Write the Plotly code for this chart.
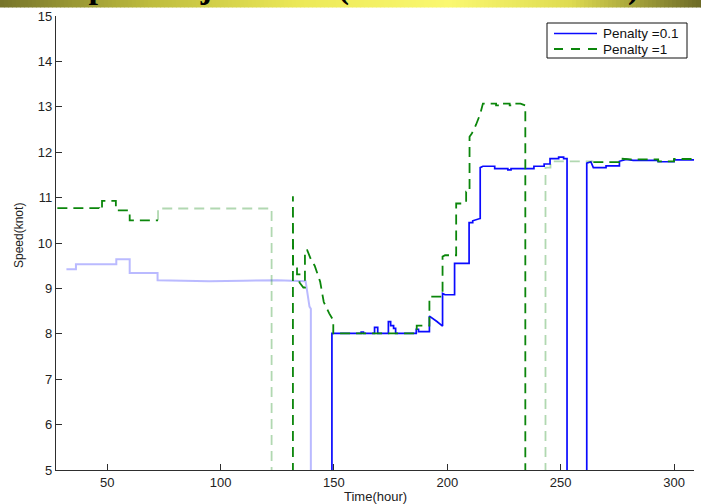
import plotly.graph_objects as go

# ---------------------------------------------------------------------------
# Speed trajectories (knot) against time (hour) for two penalty settings.
# Port stays are recorded as speed 0 and fall below the visible axis range.
# ---------------------------------------------------------------------------

# Penalty = 0.1 : earlier (lighter) part of the trajectory
p01_faded_time = [32, 36.2, 36.2, 54, 54, 59.9, 59.9, 72.2, 72.2, 95, 110, 125,
                  137.5, 139.2, 139.8, 139.8]
p01_faded_speed = [9.42, 9.42, 9.53, 9.53, 9.64, 9.64, 9.34, 9.34, 9.18, 9.16,
                   9.17, 9.18, 9.16, 8.6, 8.55, 0]

# Penalty = 0.1 : main trajectory
p01_time = [149.1, 149.1, 162, 162, 163, 163, 167.9, 167.9, 169.3, 169.3, 174,
            174, 175, 175, 176.3, 176.3, 177.2, 177.2, 186.3, 186.3, 187.3,
            187.3, 192.1, 192.1, 195.4, 197.6, 197.9, 197.9, 199, 203.2, 203.2,
            209.6, 209.6, 211.2, 211.2, 214.4, 214.5, 214.5, 215.7, 220.9, 220.9,
            226.7, 226.7, 228.1, 228.1, 238.2, 238.2, 242.7, 242.7, 245.3, 245.3,
            249.1, 249.1, 251.3, 251.3, 252.8, 252.8, 261.5, 261.5, 263.3, 264.4,
            270, 270, 275.9, 275.9, 278.9, 282, 293, 293, 300, 300, 308.8]
p01_speed = [0, 8.01, 8.01, 8.04, 8.04, 8.01, 8.01, 8.14, 8.14, 8.01, 8.01,
             8.27, 8.27, 8.18, 8.18, 8.12, 8.12, 8.01, 8.01, 8.1, 8.1,
             8.05, 8.05, 8.39, 8.27, 8.17, 8.17, 8.89, 8.86, 8.86, 9.55,
             9.55, 10.45, 10.45, 10.49, 10.54, 10.54, 11.66, 11.69, 11.69, 11.64,
             11.64, 11.61, 11.61, 11.64, 11.64, 11.69, 11.69, 11.74, 11.74, 11.86,
             11.86, 11.89, 11.89, 11.86, 11.86, 0, 0, 11.76, 11.79, 11.66,
             11.66, 11.7, 11.7, 11.8, 11.84, 11.82, 11.82, 11.79, 11.79, 11.83, 11.83]

# Penalty = 1 : main trajectory, three legs
p1_leg1_time = [28, 46.5, 46.5, 47.7, 47.7, 53.8, 53.8, 59.9, 59.9, 72.4]
p1_leg1_speed = [10.77, 10.77, 10.74, 10.74, 10.93, 10.93, 10.72, 10.72, 10.5, 10.5]

p1_leg2_time = [131.9, 131.9, 132.0, 133.7, 133.7, 134.8, 134.8, 136.5, 137.2,
                137.2, 138.2, 140.0, 141.5, 143.9, 145.5, 147.9, 149.7, 149.7,
                186.5, 186.5, 192.1, 192.1, 197.9, 197.9, 199, 203.9, 203.9,
                207, 208.3, 208.3, 209.8, 209.8, 210.8, 212.7, 214.5, 215.7,
                221.5, 221.5, 223, 223, 227.5, 227.5, 229, 229, 232.3, 234.4, 234.4]
p1_leg2_speed = [0, 11.03, 9.44, 9.44, 9.31, 9.31, 9.13, 9.02, 9.02,
                 9.84, 9.84, 9.62, 9.5, 9.15, 8.7, 8.45, 8.3, 8.01,
                 8.01, 8.18, 8.18, 8.82, 8.82, 9.7, 9.73, 9.73, 10.87,
                 10.87, 10.89, 11.13, 11.13, 12.34, 12.41, 12.61, 12.84, 13.07,
                 13.07, 13.03, 13.03, 13.07, 13.07, 13.03, 13.03, 13.07, 13.07, 13.03, 0]

p1_leg3_time = [264.4, 275.8, 275.8, 281, 293, 293, 300, 300, 308.8]
p1_leg3_speed = [11.78, 11.78, 11.86, 11.84, 11.84, 11.8, 11.8, 11.85, 11.85]

# Penalty = 1 : lighter parts of the trajectory
p1_faded1_time = [72.4, 72.4, 122.5, 122.5]
p1_faded1_speed = [10.5, 10.76, 10.76, 0]
p1_faded2_time = [243.3, 243.3, 245.5, 245.5, 264.4]
p1_faded2_speed = [0, 11.66, 11.66, 11.8, 11.8]

series_names = ["Penalty =0.1", "Penalty =1"]
x_ticks = [50, 100, 150, 200, 250, 300]
y_ticks = [5, 6, 7, 8, 9, 10, 11, 12, 13, 14, 15]
x_range = [27.4, 308.8]
y_range = [5, 15]


def joined(*parts):
    """Concatenate segments with None so each leg is drawn separately."""
    out = []
    for i, p in enumerate(parts):
        if i:
            out.append(None)
        out.extend(p)
    return out


BLUE = "#0a0aff"
GREEN = "#0b860b"
BLUE_FADED = "rgba(40,40,255,0.32)"
GREEN_FADED = "rgba(11,134,11,0.32)"
DASH = "10px,6px"
SANS = "Liberation Sans, Arial, sans-serif"

fig = go.Figure()
fig.add_trace(go.Scatter(x=p01_faded_time, y=p01_faded_speed, mode="lines",
                         line=dict(color=BLUE_FADED, width=2),
                         showlegend=False, hoverinfo="skip"))
fig.add_trace(go.Scatter(x=p01_time, y=p01_speed, mode="lines",
                         name=series_names[0], showlegend=False,
                         line=dict(color=BLUE, width=1.7)))
fig.add_trace(go.Scatter(x=joined(p1_leg1_time, p1_leg2_time, p1_leg3_time),
                         y=joined(p1_leg1_speed, p1_leg2_speed, p1_leg3_speed),
                         mode="lines", name=series_names[1], connectgaps=False,
                         showlegend=False,
                         line=dict(color=GREEN, width=1.8, dash=DASH)))
fig.add_trace(go.Scatter(x=joined(p1_faded1_time, p1_faded2_time),
                         y=joined(p1_faded1_speed, p1_faded2_speed),
                         mode="lines", connectgaps=False, showlegend=False,
                         hoverinfo="skip",
                         line=dict(color=GREEN_FADED, width=1.8, dash=DASH)))

# Page geometry (pixels)
W, H = 701, 504
L, R, T, B = 56, 7, 16, 34


def px_x(p):
    return (p - L) / (W - L - R)


def px_y(p):
    return 1 - (p - T) / (H - T - B)


# Gradient header band across the top of the page
stops = [(0, (118, 116, 42)), (150, (190, 188, 62)), (300, (236, 233, 88)),
         (450, (250, 248, 112)), (570, (222, 219, 80)), (701, (108, 106, 38))]


def band_colour(x):
    for (xa, ca), (xb, cb) in zip(stops[:-1], stops[1:]):
        if xa <= x <= xb:
            f = (x - xa) / (xb - xa)
            c = [round(a + (b - a) * f) for a, b in zip(ca, cb)]
            return "rgb(%d,%d,%d)" % tuple(c)
    return "rgb(%d,%d,%d)" % stops[-1][1]


shapes = []
step = 4
for x0 in range(0, W, step):
    shapes.append(dict(type="rect", xref="paper", yref="paper",
                       x0=px_x(x0), x1=px_x(x0 + step + 0.6),
                       y0=px_y(7.5), y1=px_y(-1),
                       fillcolor=band_colour(x0 + step / 2),
                       line=dict(width=0), layer="above"))

# Legend box with one sample line per series
LEG_BOX = (547, 23, 687, 58)
LEG_ROWS = [33.5, 49]
shapes.append(dict(type="rect", xref="paper", yref="paper",
                   x0=px_x(LEG_BOX[0]), x1=px_x(LEG_BOX[2]),
                   y0=px_y(LEG_BOX[3]), y1=px_y(LEG_BOX[1]),
                   fillcolor="white", line=dict(color="#111", width=1),
                   layer="above"))
legend_styles = [dict(color=BLUE, width=1.7),
                 dict(color=GREEN, width=1.8, dash="9px,8px")]
annotations = []
for row_y, style, label in zip(LEG_ROWS, legend_styles, series_names):
    shapes.append(dict(type="line", xref="paper", yref="paper",
                       x0=px_x(554), x1=px_x(597),
                       y0=px_y(row_y), y1=px_y(row_y),
                       line=style, layer="above"))
    annotations.append(dict(text=label, xref="paper", yref="paper",
                            x=px_x(601), y=px_y(row_y), xanchor="left",
                            yanchor="middle", showarrow=False,
                            font=dict(family=SANS, size=13.5, color="#111")))

annotations += [
    dict(text="<b>The speed adjustment (different cost levels)</b>",
         xref="paper", yref="paper", x=px_x(8), y=px_y(8.3),
         xanchor="left", yanchor="bottom", showarrow=False,
         font=dict(family="Liberation Serif, Times New Roman, serif",
                   size=34, color="black")),
    dict(text="Speed(knot)", xref="paper", yref="paper",
         x=px_x(19), y=px_y(236), xanchor="center", yanchor="middle",
         textangle=-90, showarrow=False,
         font=dict(family=SANS, size=12, color="#222")),
    dict(text="Time(hour)", xref="paper", yref="paper",
         x=px_x(375), y=px_y(496), xanchor="center", yanchor="middle",
         showarrow=False,
         font=dict(family=SANS, size=13, color="#222")),
]

axis_common = dict(showline=True, linecolor="#2e2e2e", linewidth=1.2,
                   ticks="inside", ticklen=6, tickwidth=1.2,
                   tickcolor="#2e2e2e", showgrid=False, zeroline=False,
                   mirror=False,
                   tickfont=dict(family=SANS, size=13, color="#222"))

fig.update_layout(
    width=W, height=H,
    margin=dict(l=L, r=R, t=T, b=B),
    paper_bgcolor="white", plot_bgcolor="white",
    xaxis=dict(range=x_range, tickvals=x_ticks, **axis_common),
    yaxis=dict(range=y_range, tickvals=y_ticks, **axis_common),
    shapes=shapes,
    annotations=annotations,
    showlegend=False,
)

fig.write_html("out.html")
